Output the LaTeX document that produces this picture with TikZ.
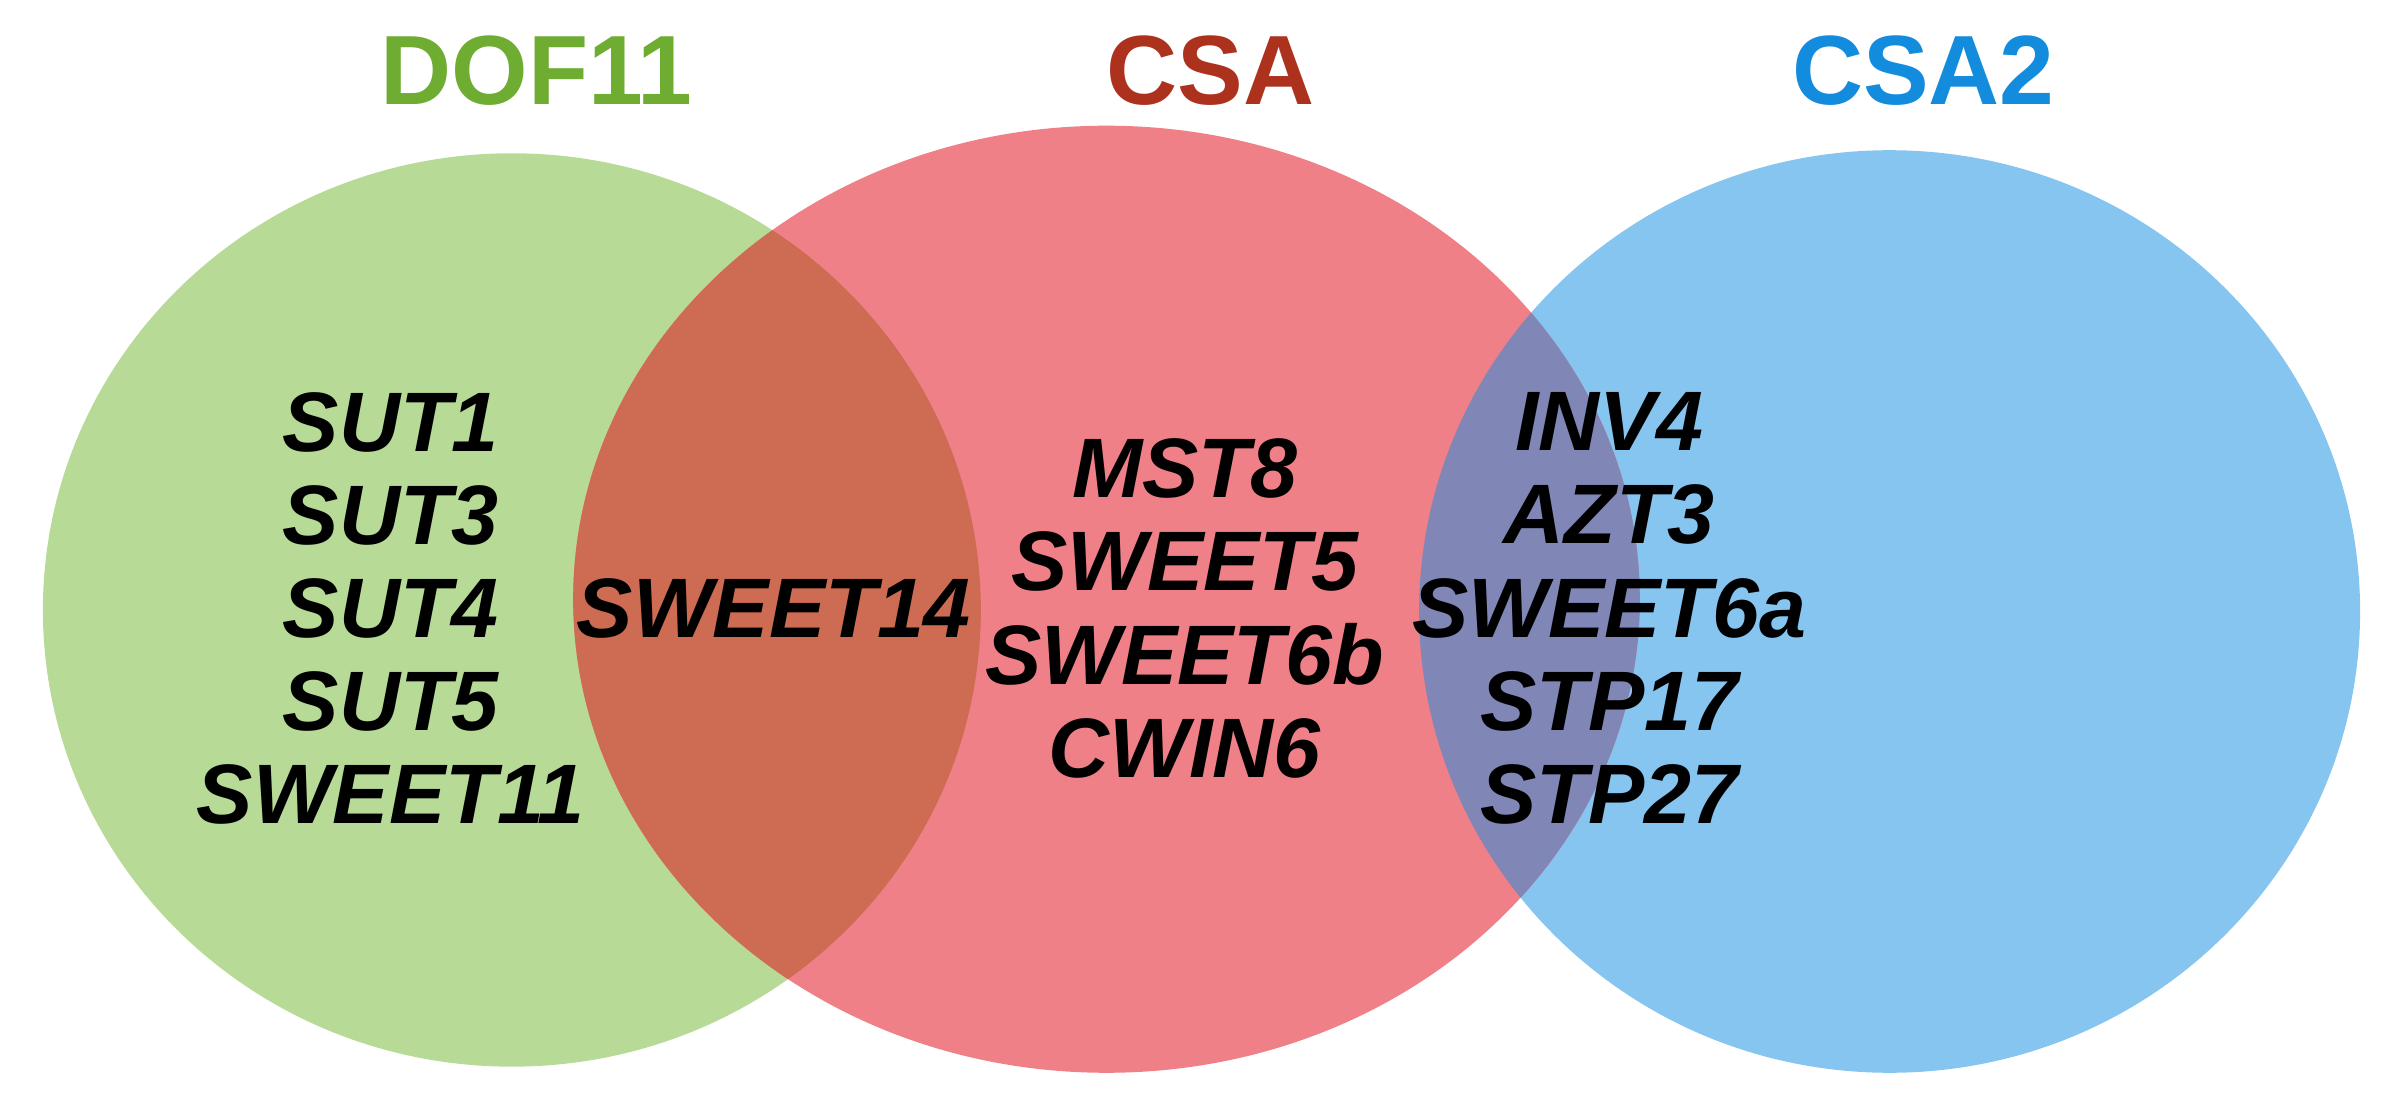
\documentclass[tikz,border=0pt]{standalone}
\usepackage{fontspec}
\setmainfont{Liberation Sans}
\definecolor{dofgreen}{RGB}{183,218,150}
\definecolor{csared}{RGB}{240,128,136}
\definecolor{csablue}{RGB}{133,197,239}
\definecolor{gr}{RGB}{206,107,83}
\definecolor{rb}{RGB}{128,135,182}
\definecolor{dofhead}{RGB}{110,172,50}
\definecolor{csahead}{RGB}{172,50,30}
\definecolor{csa2head}{RGB}{20,140,222}
\tikzset{
  head/.style={font=\fontsize{28}{32}\selectfont\bfseries},
  genes/.style={align=center,font=\fontsize{24}{26.5}\selectfont\bfseries\itshape}
}
\begin{document}
\begin{tikzpicture}[x=0.015325cm,y=-0.015325cm]
  \useasboundingbox (0,0) rectangle (1568,730);
  %sets
  \fill[dofgreen] (334,398) ellipse [x radius=306,y radius=298];
  \fill[csablue] (1233,399) ellipse [x radius=307,y radius=301];
  \fill[csared] (722,391) ellipse [x radius=348,y radius=309];
  %overlaps
  \begin{scope}
    \clip (334,398) ellipse [x radius=306,y radius=298];
    \fill[gr] (722,391) ellipse [x radius=348,y radius=309];
  \end{scope}
  \begin{scope}
    \clip (1233,399) ellipse [x radius=307,y radius=301];
    \fill[rb] (722,391) ellipse [x radius=348,y radius=309];
  \end{scope}

  % headings
  \node[head,text=dofhead] (dof) at (350,46) {DOF11};
  \node[head,text=csahead] (csa) at (790,46) {CSA};
  \node[head,text=csa2head] (csa2) at (1255,46) {CSA2};

  % gene lists
  \node[genes] (dofonly) at (255,397) {SUT1\\SUT3\\SUT4\\SUT5\\SWEET11};
  \node[genes] (dofcsa) at (505,397) {SWEET14};
  \node[genes] (csaonly) at (773,397) {MST8\\SWEET5\\SWEET6b\\CWIN6};
  \node[genes] (csacsa2) at (1050,397) {INV4\\AZT3\\SWEET6a\\STP17\\STP27};
\end{tikzpicture}
\end{document}
